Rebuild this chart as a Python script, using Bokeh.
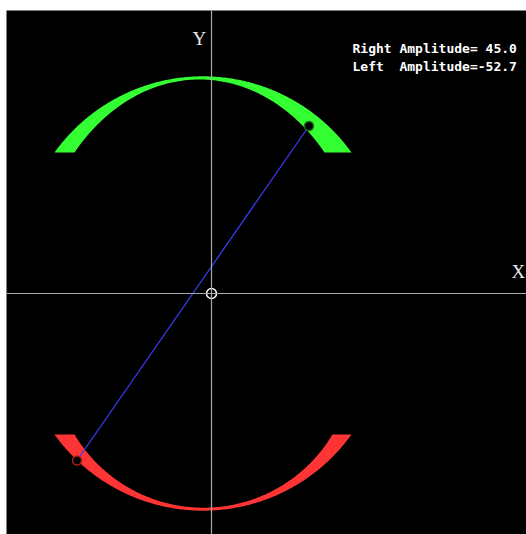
import numpy as np
from bokeh.plotting import figure
from bokeh.models import Range1d, Span, Label
from bokeh.embed import file_html
from bokeh.resources import INLINE

# Amplitude readouts shown in the top-right corner
side_names = ["Right", "Left"]
amplitudes = [45.0, -52.7]

# Swept bands: each edge is an elliptical arc (cx, cy, a, b), cut flat at +/- band_cut
upper_outer = (-8.5, 34.4, 182.8, 182.8)
upper_inner = (-12.0, 0.0, 166.2, 214.0)
lower_outer = (-8.5, -34.4, 182.8, 182.8)
lower_inner = (-8.0, -64.0, 150.2, 150.2)
band_cut = 141.0

# Current tip positions of the rod (upper = right side, lower = left side)
tip_x = [97.5, -134.5]
tip_y = [167.5, -167.0]


def edge(ellipse, y_cut, n=200):
    cx, cy, a, b = ellipse
    s = (y_cut - cy) / b
    c = np.sqrt(1.0 - s * s)
    t0 = np.arctan2(s, -c)
    t1 = np.arctan2(s, c)
    t = np.linspace(t0, t1, n)
    return cx + a * np.cos(t), cy + b * np.sin(t)


def band(outer, inner, y_cut):
    ox, oy = edge(outer, y_cut)
    ix, iy = edge(inner, y_cut)
    return np.concatenate([ox, ix[::-1]]), np.concatenate([oy, iy[::-1]])


p = figure(
    width=526, height=534,
    x_range=Range1d(-205, 315), y_range=Range1d(-241, 283),
    output_backend="svg", toolbar_location=None,
    x_axis_location=None, y_axis_location=None,
    min_border_left=6, min_border_top=10,
    min_border_right=0, min_border_bottom=0,
    background_fill_color="black", border_fill_color="white",
    outline_line_color=None,
)
p.grid.visible = False

ux, uy = band(upper_outer, upper_inner, band_cut)
lx, ly = band(lower_outer, lower_inner, -band_cut)
p.patch(ux, uy, fill_color="#33ff33", line_color=None)
p.patch(lx, ly, fill_color="#ff3535", line_color=None)

# Coordinate axes through the pivot
p.add_layout(Span(location=0, dimension="width", line_color="#a8a8a8", line_width=1.2))
p.add_layout(Span(location=0, dimension="height", line_color="#a8a8a8", line_width=1.2))

# Rod joining the two tips
p.line(tip_x, tip_y, line_color="#3c3cff", line_width=1.2)

p.scatter([tip_x[0]], [tip_y[0]], size=9, fill_color="black",
          line_color="#1a6a1a", line_width=1.5)
p.scatter([tip_x[1]], [tip_y[1]], size=9, fill_color="black",
          line_color="#a02020", line_width=1.5)
p.scatter([0], [0], size=10, fill_color="black", line_color="white", line_width=1.5)

# Axis names
p.add_layout(Label(x=-19, y=255, text="Y", text_font="Liberation Serif",
                   text_font_size="19px", text_color="#e8e8e8",
                   text_baseline="alphabetic"))
p.add_layout(Label(x=300, y=22, text="X", text_font="Liberation Serif",
                   text_font_size="19px", text_color="#e8e8e8",
                   text_baseline="alphabetic"))

# Readout lines (non-breaking padding keeps the columns aligned)
for i, (name, amp) in enumerate(zip(side_names, amplitudes)):
    line = f"{name:<5} Amplitude={amp:5.1f}".replace(" ", "\u00a0")
    p.add_layout(Label(x=141, y=245 - 18 * i, text=line,
                       text_font="DejaVu Sans Mono", text_font_size="13px",
                       text_font_style="bold", text_color="white",
                       text_baseline="alphabetic"))

open("out.html", "w").write(file_html(p, INLINE))
